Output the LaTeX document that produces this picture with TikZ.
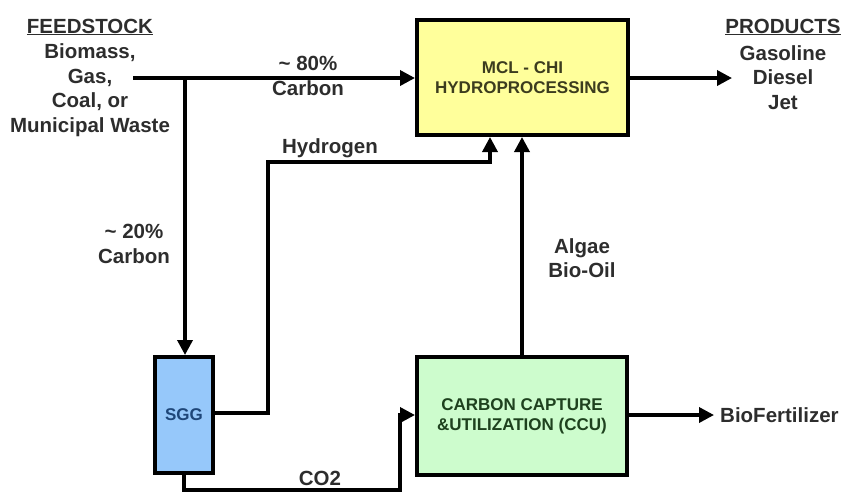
\documentclass[tikz,border=0pt]{standalone}
\usepackage{fontspec}
\setmainfont{Liberation Sans}
\usetikzlibrary{arrows.meta,calc}
\definecolor{txt}{RGB}{45,45,45}
\definecolor{yfill}{RGB}{255,255,155}
\definecolor{bfill}{RGB}{150,200,250}
\definecolor{gfill}{RGB}{205,252,205}
\definecolor{ytxt}{RGB}{60,60,30}
\definecolor{btxt}{RGB}{30,70,120}
\definecolor{gtxt}{RGB}{30,65,30}
\tikzset{
  box/.style={draw=black, line width=4pt, inner sep=0pt, font=\fontsize{17}{20}\selectfont\bfseries, align=center},
  lbl/.style={text=txt, font=\fontsize{20.5}{24.5}\selectfont\bfseries, align=center, inner sep=0pt},
  flow/.style={line width=3.5pt, -{Triangle[length=15pt,width=15pt]}},
}
\begin{document}
\begin{tikzpicture}[x=1pt,y=-1pt]
\useasboundingbox (0,0) rectangle (853,493);
% boxes
\node[box, fill=yfill, text=ytxt, minimum width=211pt, minimum height=115pt] (mcl) at (522.5,77.5) {MCL - CHI\\HYDROPROCESSING};
\node[box, fill=bfill, text=btxt, minimum width=58pt, minimum height=116pt] (sgg) at (184,415) {SGG};
\node[box, fill=gfill, text=gtxt, minimum width=210pt, minimum height=118pt] (ccu) at (522,416) {CARBON CAPTURE\\\&UTILIZATION (CCU)};
% labels
\node[lbl] (feed) at (90,27) {\underline{FEEDSTOCK}};
\node[lbl] (feedlist) at (90,90) {Biomass,\\Gas,\\Coal, or\\Municipal Waste};
\node[lbl] (prod) at (783,27) {\underline{PRODUCTS}};
\node[lbl] (prodlist) at (783,77.5) {Gasoline\\Diesel\\Jet};
\node[lbl] (c80) at (308,76) {\textasciitilde{} 80\%\\Carbon};
\node[lbl] (c20) at (134,244) {\textasciitilde{} 20\%\\Carbon};
\node[lbl] (hyd) at (330,148) {Hydrogen};
\node[lbl] (algae) at (582,258) {Algae\\Bio-Oil};
\node[lbl] (co2) at (320,478) {CO2};
\node[lbl, anchor=west] (biof) at (720,415) {BioFertilizer};
% coordinates
\coordinate (fs) at (133,78);
\coordinate (jn) at (185,78);
\coordinate (pe) at (732,78);
\coordinate (be) at (714,415);
% connectors
\draw[flow] (fs) -- (mcl.west |- fs);
\draw[flow] (jn) -- (jn |- sgg.north);
\draw[flow] (mcl.east |- pe) -- (pe);
\draw[flow] (sgg.east |- 0,413) -- (268,413) -- (268,162) -- (490,162) -- (490,0 |- mcl.south);
\draw[flow] (ccu.north) -- (ccu.north |- mcl.south);
\draw[flow] (sgg.south) -- (184,490) -- (400,490) -- (400,415) -- (ccu.west |- 0,415);
\draw[flow] (ccu.east |- be) -- (be);
\end{tikzpicture}
\end{document}
